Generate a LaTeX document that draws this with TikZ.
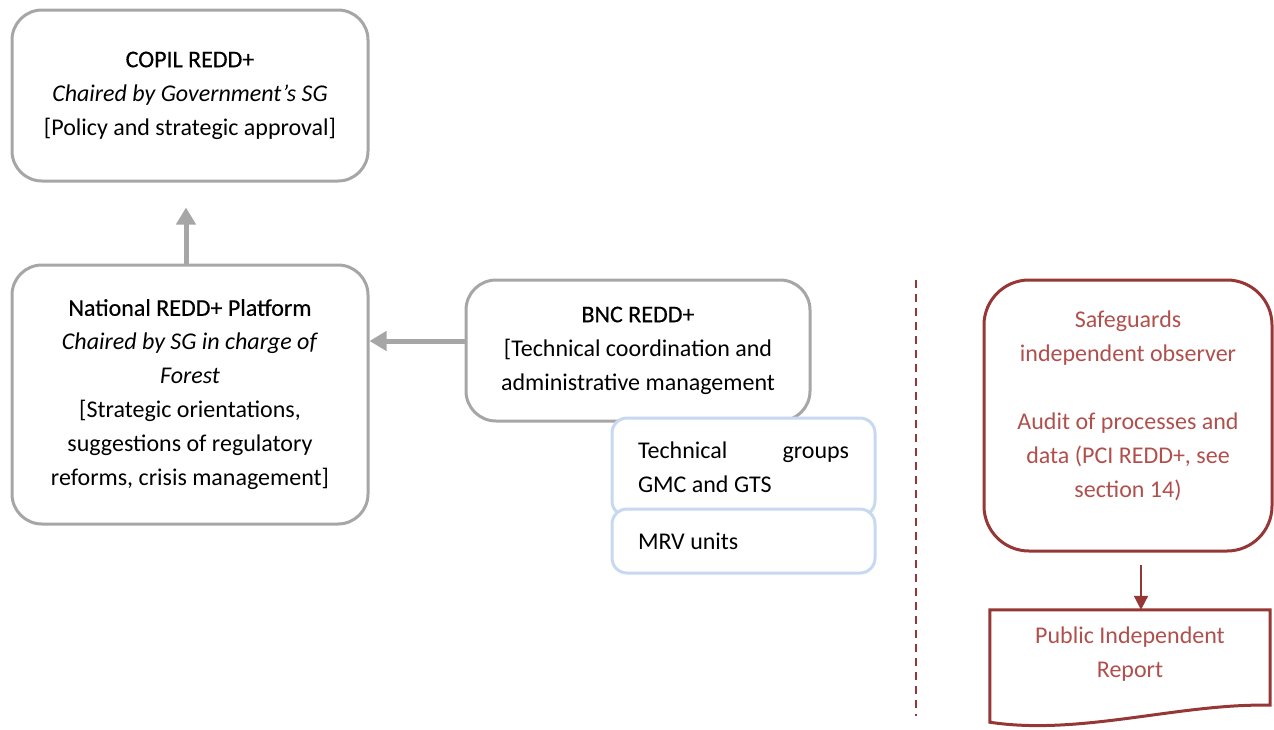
\documentclass[tikz,border=0pt]{standalone}
\usepackage{fontspec}
\setmainfont{Carlito}
\newfontfamily\headfont[FakeBold=0.4]{Carlito}
\usetikzlibrary{arrows.meta}
\definecolor{boxgray}{HTML}{A6A6A6}
\definecolor{boxblue}{HTML}{C6D9F1}
\definecolor{darkred}{HTML}{953735}
\definecolor{redtext}{HTML}{B0504D}
\newcommand{\boxhead}[1]{{\headfont #1}}
\tikzset{
  body/.style={font=\fontsize{24}{34}\selectfont, align=center, inner sep=0pt},
  graybox/.style={body, draw=boxgray, line width=3pt, rounded corners=30pt, fill=white},
  bluebox/.style={font=\fontsize{24}{34}\selectfont, align=flush left, text width=211pt,
    draw=boxblue, line width=3pt, rounded corners=15pt, fill=white, inner sep=0pt},
  redbox/.style={draw=darkred, line width=3pt, rounded corners=45pt, inner sep=0pt},
  redlabel/.style={body, text=redtext},
  grayarrow/.style={draw=boxgray, line width=5pt, -{Triangle[length=17pt,width=19pt]}},
  redarrow/.style={draw=darkred, line width=2pt, -{Triangle[length=14pt,width=14pt]}},
}
\begin{document}
\begin{tikzpicture}[x=1pt,y=-1pt]
\useasboundingbox (0,0) rectangle (1274,729);

% governance boxes
\node[graybox, minimum width=356pt, minimum height=171pt] (copil) at (190,95.5)
  {\boxhead{COPIL REDD+}\\\textit{Chaired by Government’s SG}\\{[}Policy and strategic approval]};
\node[graybox, minimum width=356pt, minimum height=259pt] (nat) at (190,394.5)
  {\boxhead{National REDD+ Platform}\\\textit{Chaired by SG in charge of}\\\textit{Forest}\\
   {[}Strategic orientations,\\suggestions of regulatory\\reforms, crisis management]};
\node[graybox, minimum width=344pt, minimum height=141pt] (bnc) at (638,350.5)
  {\boxhead{BNC REDD+}\\{[}Technical coordination and\\administrative management};

% technical sub-units
\node[bluebox, minimum width=263pt, minimum height=98pt] (tech) at (743.5,467)
  {\makebox[211pt][l]{Technical\hfill groups}\\GMC and GTS};
\node[bluebox, minimum width=263pt, minimum height=64pt] (mrv) at (743.5,541)
  {MRV units};

% reporting lines
\draw[grayarrow] ([xshift=-4pt]nat.north) -- ([xshift=-4pt,yshift=-25pt]copil.south);
\coordinate (bncout) at ([yshift=9.5pt]bnc.west);
\draw[grayarrow] (bncout) -- (bncout -| nat.east);

% separator
\draw[darkred, line width=2pt, dash pattern=on 8pt off 6pt] (916,280) -- (916,716);

% independent observer
\node[redbox, minimum width=288pt, minimum height=271pt] (safe) at (1128,415.5) {};
\node[redlabel] at (1128,406)
  {Safeguards\\independent observer\\[34pt]Audit of processes and\\data (PCI REDD+, see\\section 14)};

% public report (document shape)
\node[minimum width=280pt, minimum height=112pt, inner sep=0pt] (report) at (1130,666) {};
\node[redlabel] at (1130,654) {Public Independent\\Report};
\draw[darkred, line width=3pt, line join=miter]
  (report.north west) -- (report.north east) -- ([yshift=17pt]report.south east)
  .. controls (1180,703) and (1080,736) .. (report.south west) -- cycle;

\coordinate (safeout) at ([xshift=13pt,yshift=-12pt]safe.south);
\draw[redarrow] (safeout) -- (safeout |- report.north);
\end{tikzpicture}
\end{document}
